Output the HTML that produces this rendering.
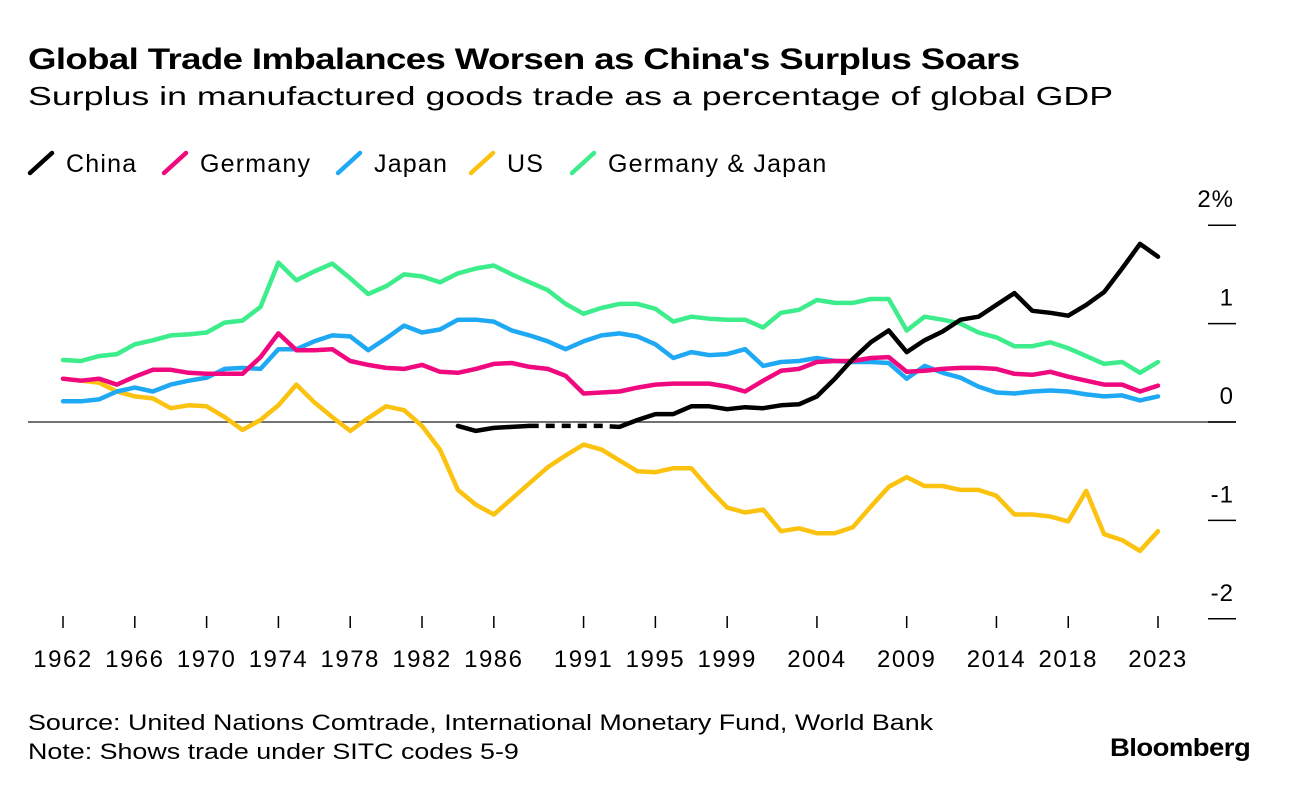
<!DOCTYPE html>
<html><head><meta charset="utf-8"><style>
body{margin:0;width:1289px;height:794px;background:#fff;font-family:"Liberation Sans",sans-serif;overflow:hidden;position:relative}
.t{position:absolute;white-space:nowrap;color:#000;transform-origin:0 0}
</style></head><body>
<div class="t" style="left:28px;top:43px;font-size:30px;font-weight:bold;letter-spacing:-0.5px;transform:scaleX(1.22)">Global Trade Imbalances Worsen as China's Surplus Soars</div>
<div class="t" style="left:28px;top:81px;font-size:26px;transform:scaleX(1.375)">Surplus in manufactured goods trade as a percentage of global GDP</div>
<div class="t" style="left:28px;top:710px;font-size:22px;transform:scaleX(1.22)">Source: United Nations Comtrade, International Monetary Fund, World Bank</div>
<div class="t" style="left:28px;top:739px;font-size:22px;transform:scaleX(1.22)">Note: Shows trade under SITC codes 5-9</div>
<div class="t" style="left:1110px;top:734px;font-size:25px;font-weight:bold;letter-spacing:-0.5px;transform:scaleX(1.1)">Bloomberg</div>
<svg id="chart" width="1289" height="794" style="position:absolute;left:0;top:0"></svg>
<script>
const years=[];for(let y=1962;y<=2023;y++)years.push(y);
const tickYears=[1962,1966,1970,1974,1978,1982,1986,1991,1995,1999,2004,2009,2014,2018,2023];
const yTicks=[2,1,0,-1,-2];
const yTickLabels=["2%","1","0","-1","-2"];
const germanyJapan=[0.63,0.62,0.67,0.69,0.79,0.83,0.88,0.89,0.91,1.01,1.03,1.17,1.62,1.44,1.53,1.61,1.46,1.30,1.38,1.50,1.48,1.42,1.51,1.56,1.59,1.50,1.42,1.34,1.20,1.10,1.16,1.20,1.20,1.15,1.02,1.07,1.05,1.04,1.04,0.96,1.11,1.14,1.24,1.21,1.21,1.25,1.25,0.93,1.07,1.04,1.00,0.91,0.86,0.77,0.77,0.81,0.75,0.67,0.59,0.61,0.50,0.61];
const japan=[0.21,0.21,0.23,0.31,0.35,0.31,0.38,0.42,0.45,0.54,0.55,0.54,0.74,0.74,0.82,0.88,0.87,0.73,0.85,0.98,0.91,0.94,1.04,1.04,1.02,0.93,0.88,0.82,0.74,0.82,0.88,0.90,0.87,0.79,0.65,0.71,0.68,0.69,0.74,0.57,0.61,0.62,0.65,0.62,0.61,0.61,0.60,0.44,0.57,0.50,0.45,0.36,0.30,0.29,0.31,0.32,0.31,0.28,0.26,0.27,0.22,0.26];
const germany=[0.44,0.42,0.44,0.38,0.46,0.53,0.53,0.50,0.49,0.49,0.49,0.66,0.90,0.73,0.73,0.74,0.62,0.58,0.55,0.54,0.58,0.51,0.50,0.54,0.59,0.60,0.56,0.54,0.47,0.29,0.30,0.31,0.35,0.38,0.39,0.39,0.39,0.36,0.31,0.42,0.52,0.54,0.61,0.62,0.62,0.65,0.66,0.51,0.52,0.54,0.55,0.55,0.54,0.49,0.48,0.51,0.46,0.42,0.38,0.38,0.31,0.37];
const us=[0.44,0.42,0.40,0.31,0.26,0.24,0.14,0.17,0.16,0.05,-0.08,0.02,0.17,0.38,0.20,0.05,-0.09,0.04,0.16,0.12,-0.04,-0.28,-0.69,-0.84,-0.94,-0.78,-0.62,-0.46,-0.34,-0.23,-0.28,-0.39,-0.50,-0.51,-0.47,-0.47,-0.68,-0.87,-0.92,-0.89,-1.11,-1.08,-1.13,-1.13,-1.07,-0.86,-0.66,-0.56,-0.65,-0.65,-0.69,-0.69,-0.75,-0.94,-0.94,-0.96,-1.01,-0.70,-1.14,-1.20,-1.31,-1.11];
const chinaYears=[1984,1985,1986,1987,1988,1989,1990,1991,1992,1993,1994,1995,1996,1997,1998,1999,2000,2001,2002,2003,2004,2005,2006,2007,2008,2009,2010,2011,2012,2013,2014,2015,2016,2017,2018,2019,2020,2021,2022,2023];
const china=[-0.04,-0.09,-0.06,-0.05,-0.04,-0.04,-0.04,-0.04,-0.04,-0.05,0.02,0.08,0.08,0.16,0.16,0.13,0.15,0.14,0.17,0.18,0.26,0.44,0.64,0.81,0.93,0.71,0.83,0.92,1.04,1.07,1.19,1.31,1.13,1.11,1.08,1.19,1.32,1.56,1.81,1.68];
const chinaGapStart=1988, chinaGapEnd=1993;

const NS="http://www.w3.org/2000/svg";
const svg=document.getElementById('chart');
const X=yr=>63+(yr-1962)*(1158-63)/61;
const Y=v=>422-v*98.4;
function mk(tag,attrs){const e=document.createElementNS(NS,tag);for(const k in attrs)e.setAttribute(k,attrs[k]);svg.appendChild(e);return e;}

const zl=mk('line',{x1:28,x2:1236,y1:Y(0),y2:Y(0),stroke:'#444','stroke-width':1.5});


yTicks.forEach((v,i)=>{
  const l=mk('line',{x1:1208,x2:1236,y1:Y(v),y2:Y(v),stroke:'#000','stroke-width':1.5});
  
  
  const t=mk('text',{x:1234,y:Y(v)-18,'text-anchor':'end','font-size':24,'letter-spacing':1,'font-family':'Liberation Sans, sans-serif'});
  t.textContent=yTickLabels[i];
  
  
});
tickYears.forEach(yr=>{
  const l=mk('line',{x1:X(yr),x2:X(yr),y1:616,y2:628,stroke:'#000','stroke-width':1.5});
  
  
  const t=mk('text',{x:X(yr),y:667,'text-anchor':'middle','font-size':24,'letter-spacing':1.5,'font-family':'Liberation Sans, sans-serif'});
  t.textContent=yr;
  
  
});
function pts(xs,vs){return xs.map((yr,i)=>X(yr).toFixed(1)+','+Y(vs[i]).toFixed(1)).join(' ');}
function line(xs,vs,color,name,dash){
  const p=mk('polyline',{points:pts(xs,vs),fill:'none',stroke:color,'stroke-width':4.5,'stroke-linejoin':'round','stroke-linecap':dash?'butt':'round'});
  if(dash)p.setAttribute('stroke-dasharray','9,7');
  
  
}
line(years,us,'#fbc20f','us-line');
line(years,japan,'#1fa9f5','japan-line');
line(years,germany,'#f0087f','germany-line');
line(years,germanyJapan,'#3ded8c','germany-japan-line');
const cx1=[],cv1=[],cx2=[],cv2=[],cx3=[],cv3=[];
chinaYears.forEach((yr,i)=>{
  if(yr<=chinaGapStart){cx1.push(yr);cv1.push(china[i]);}
  if(yr>=chinaGapStart&&yr<=chinaGapEnd){cx2.push(yr);cv2.push(china[i]);}
  if(yr>=chinaGapEnd){cx3.push(yr);cv3.push(china[i]);}
});
line(cx1,cv1,'#000','china-line-early');
line(cx2,cv2,'#000','china-line-gap',true);
line(cx3,cv3,'#000','china-line');

const legend=[['China','#000',28],['Germany','#f0087f',162],['Japan','#1fa9f5',336],['US','#fbc20f',469],['Germany & Japan','#3ded8c',570]];
legend.forEach(([lab,c,x])=>{
  const l=mk('line',{x1:x+2,y1:173,x2:x+24,y2:153,stroke:c,'stroke-width':4.5,'stroke-linecap':'round'});
  
  
  const t=mk('text',{x:x+38,y:172,'font-size':25,'letter-spacing':1.2,'font-family':'Liberation Sans, sans-serif'});
  t.textContent=lab;
  
  
});
</script>
</body></html>
